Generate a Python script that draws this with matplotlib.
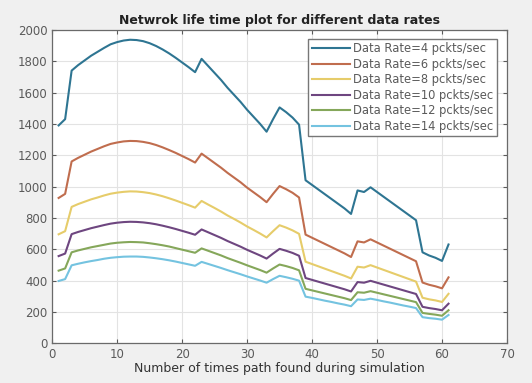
import numpy as np
import matplotlib.pyplot as plt

# number of times path found (x axis)
x = np.arange(1, 62)

rate4 = [1390, 1430, 1740, 1775, 1805, 1835, 1860, 1885, 1908, 1922, 1932, 1937, 1935, 1928, 1915, 1897,
         1875, 1850, 1822, 1792, 1762, 1730, 1815, 1770, 1725, 1680, 1630, 1585, 1540, 1490, 1445, 1400,
         1350, 1430, 1505, 1475, 1440, 1395, 1040, 1010, 980, 950, 920, 890, 860, 825, 975, 965, 995,
         965, 935, 905, 875, 845, 815, 785, 580, 560, 545, 525, 630]
rate6 = [927, 953, 1160, 1183, 1203, 1223, 1240, 1257, 1272, 1281, 1288, 1291, 1290, 1285, 1277, 1265,
         1250, 1233, 1215, 1195, 1175, 1153, 1210, 1180, 1150, 1120, 1087, 1057, 1027, 993, 963, 933,
         900, 953, 1003, 983, 960, 930, 693, 673, 653, 633, 613, 593, 573, 550, 650, 643, 663,
         643, 623, 603, 583, 563, 543, 523, 387, 373, 363, 350, 420]
rate8 = [695, 715, 870, 888, 903, 918, 930, 943, 954, 961, 966, 969, 968, 964, 958, 949,
         938, 925, 911, 896, 881, 865, 908, 885, 863, 840, 815, 793, 770, 745, 723, 700,
         675, 715, 753, 738, 720, 698, 520, 505, 490, 475, 460, 445, 430, 413, 488, 483, 498,
         483, 468, 453, 438, 423, 408, 393, 290, 280, 273, 263, 315]
rate10 = [556, 572, 696, 710, 722, 734, 744, 754, 763, 769, 773, 775, 774, 771, 766, 759,
          750, 740, 729, 717, 705, 692, 726, 708, 690, 672, 652, 634, 616, 596, 578, 560,
          540, 572, 602, 590, 576, 558, 416, 404, 392, 380, 368, 356, 344, 330, 390, 386, 398,
          386, 374, 362, 350, 338, 326, 314, 232, 224, 218, 210, 252]
rate12 = [463, 477, 580, 592, 602, 612, 620, 628, 636, 641, 644, 646, 645, 643, 638, 632,
          625, 617, 607, 597, 587, 577, 605, 590, 575, 560, 543, 528, 513, 497, 482, 467,
          450, 477, 502, 492, 480, 465, 347, 337, 327, 317, 307, 297, 287, 275, 325, 322, 332,
          322, 312, 302, 292, 282, 272, 262, 193, 187, 182, 175, 210]
rate14 = [397, 409, 497, 507, 516, 524, 531, 539, 545, 549, 552, 553, 553, 551, 547, 542,
          536, 529, 521, 512, 503, 494, 519, 506, 493, 480, 466, 453, 440, 426, 413, 400,
          386, 409, 430, 421, 411, 399, 297, 289, 280, 271, 263, 254, 246, 236, 279, 276, 284,
          276, 267, 259, 250, 241, 233, 224, 166, 160, 156, 150, 180]

series = [rate4, rate6, rate8, rate10, rate12, rate14]
labels = ['Data Rate=4 pckts/sec', 'Data Rate=6 pckts/sec', 'Data Rate=8 pckts/sec',
          'Data Rate=10 pckts/sec', 'Data Rate=12 pckts/sec', 'Data Rate=14 pckts/sec']
colors = ['#2e7592', '#c06d4e', '#e6cc6a', '#6e4680', '#85a75a', '#74c3e0']

fig = plt.figure(figsize=(5.32, 3.83), dpi=100)
fig.patch.set_facecolor('#f0f0f0')
ax = fig.add_axes([0.098, 0.104, 0.855, 0.818])

for y, lab, c in zip(series, labels, colors):
    ax.plot(x, y, color=c, linewidth=1.5, label=lab)

ax.set_xlim(0, 70)
ax.set_ylim(0, 2000)
ax.set_xticks(np.arange(0, 71, 10))
ax.set_yticks(np.arange(0, 2001, 200))
ax.grid(True, color='#e3e3e3', linewidth=0.8)
ax.set_axisbelow(True)
ax.tick_params(direction='in', top=True, right=True, labelsize=8.5, colors='#5a5a5a', length=3)
for s in ax.spines.values():
    s.set_color('#6a6a6a')
    s.set_linewidth(0.9)

ax.set_title('Netwrok life time plot for different data rates', fontsize=9, fontweight='bold',
             color='#222222', pad=4)
ax.set_xlabel('Number of times path found during simulation', fontsize=9, color='#333333', labelpad=1)

leg = ax.legend(loc='upper right', fontsize=8.3, handlelength=3.3, handletextpad=0.25,
                borderpad=0.3, labelspacing=0.22, fancybox=False, framealpha=1,
                edgecolor='#777777', bbox_to_anchor=(0.99, 0.99))
for t in leg.get_texts():
    t.set_color('#5a5a5a')

fig.savefig('out.png', dpi=100, facecolor=fig.get_facecolor())
